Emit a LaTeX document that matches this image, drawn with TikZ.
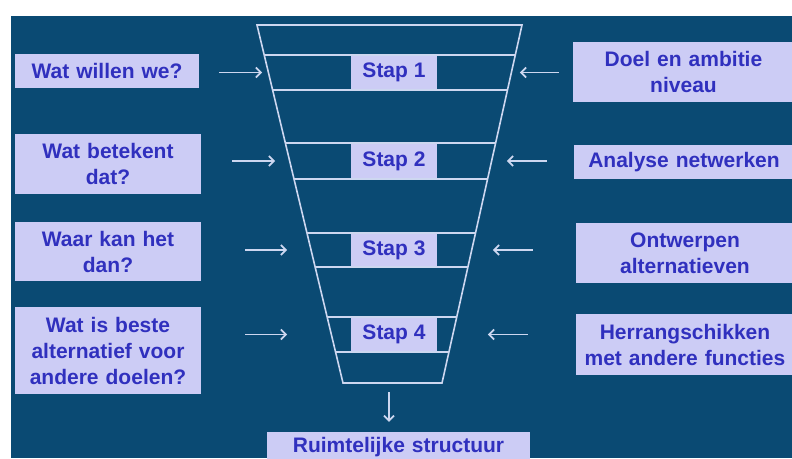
\documentclass[tikz,border=0pt]{standalone}
\usepackage{fontspec}
\setmainfont{Liberation Sans}
\usetikzlibrary{calc,arrows.meta,positioning}
\definecolor{bgblue}{RGB}{10,74,115}
\definecolor{boxfill}{RGB}{204,204,245}
\definecolor{boxtext}{RGB}{48,48,190}
\definecolor{linec}{RGB}{205,215,240}

\begin{document}
\begin{tikzpicture}[x=1pt,y=-1pt,
    vak/.style={fill=boxfill,text=boxtext,font=\bfseries\fontsize{21}{26}\selectfont,align=center,inner sep=0pt},
    pijl/.style={draw=linec,line width=1.8pt,-{Straight Barb[length=5pt,width=10pt]}},
    lijn/.style={draw=linec,line width=1.6pt}]

        \useasboundingbox (0,0) rectangle (792,458);
        \fill[white] (0,0) rectangle (792,458);
        \fill[bgblue] (11,16) rectangle (792,458);

        % trechter
        \coordinate (tl) at (257,25);
        \coordinate (tr) at (522,25);
        \coordinate (bl) at (343,383);
        \coordinate (br) at (442,383);
        \draw[lijn] (bl) -- (tl) -- (tr) -- (br) -- cycle;
        \foreach \y in {55,90,143,179,233,267,317,352}
            \draw[lijn] ($(tl)!{(\y-25)/358}!(bl)$) -- ($(tr)!{(\y-25)/358}!(br)$);

        % stappen
        \node[vak,minimum width=86,minimum height=33] (s1) at (394,72.5) {Stap 1};
        \node[vak,minimum width=86,minimum height=34] (s2) at (394,161) {Stap 2};
        \node[vak,minimum width=86,minimum height=32] (s3) at (394,250) {Stap 3};
        \node[vak,minimum width=86,minimum height=33] (s4) at (394,334.5) {Stap 4};

        % vragen links
        \node[vak,text width=184,minimum height=34] (q1) at (107,71) {Wat willen we?};
        \node[vak,text width=186,minimum height=60] (q2) at (108,164) {Wat betekent\\dat?};
        \node[vak,text width=186,minimum height=59] (q3) at (108,251.5) {Waar kan het\\dan?};
        \node[vak,text width=186,minimum height=87] (q4) at (108,350.5) {Wat is beste\\alternatief voor\\andere doelen?};

        % invoer rechts
        \node[vak,text width=221,minimum height=60] (d1) at (683.5,72) {Doel en ambitie\\niveau};
        \node[vak,text width=220,minimum height=34] (d2) at (684,162) {Analyse netwerken};
        \node[vak,text width=218,minimum height=60] (d3) at (685,253) {Ontwerpen\\alternatieven};
        \node[vak,text width=218,minimum height=61] (d4) at (685,344.5) {Herrangschikken\\met andere functies};

        % resultaat
        \node[vak,text width=263,minimum height=30] (res) at (398.5,447) {Ruimtelijke structuur};

        \foreach \i/\a/\b in {1/20/63,2/31/74,3/44/86,4/44/86}
            \draw[pijl] ($(q\i.east |- s\i)+(\a,0)$) -- ($(q\i.east |- s\i)+(\b,0)$);
        \foreach \i/\a/\b in {1/-14/-53,2/-27/-67,3/-43/-83,4/-48/-88}
            \draw[pijl] ($(d\i.west |- s\i)+(\a,0)$) -- ($(d\i.west |- s\i)+(\b,0)$);

        \coordinate (uit) at (389,392);
        \draw[pijl,shorten >=10pt] (uit) -- (uit |- res.north);
\end{tikzpicture}
\end{document}
